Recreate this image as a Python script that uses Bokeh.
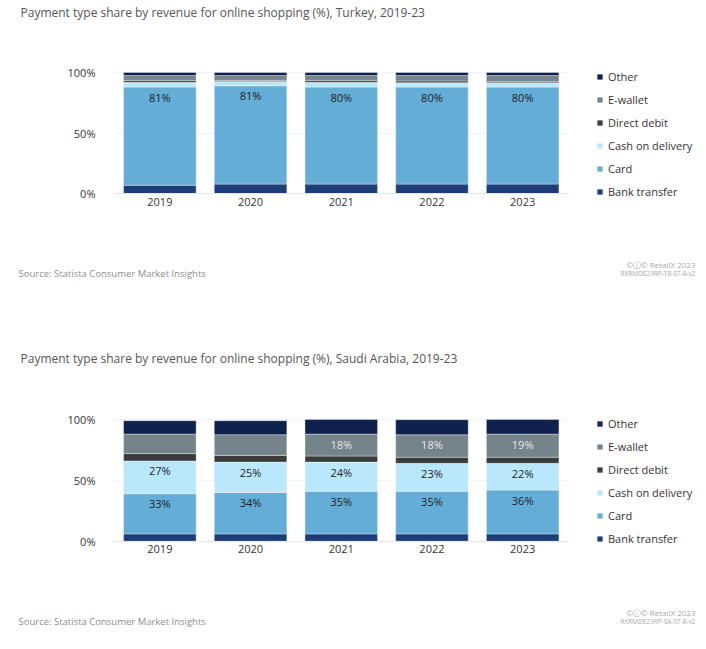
from bokeh.plotting import figure
from bokeh.models import (Range1d, FixedTicker, PrintfTickFormatter, LinearAxis, Grid,
                          Legend, LegendItem, Label, ColumnDataSource)
from bokeh.layouts import column
from bokeh.embed import file_html
from bokeh.resources import INLINE
from bokeh.core.properties import value

# ---------------- data ----------------
years = ["2019", "2020", "2021", "2022", "2023"]
series = ["Bank transfer", "Card", "Cash on delivery", "Direct debit", "E-wallet", "Other"]
colors = ["#1d3d79", "#64add6", "#b9e7fc", "#3b3b3b", "#75848a", "#10214e"]
label_colors = ["#222222", "#1e1e1e", "#1e1e1e", "#eeeeee", "#e6e6e6", "#eeeeee"]

# Turkey
tr_bank_transfer = [7, 8, 8, 8, 8]
tr_card = [81, 81, 80, 80, 80]
tr_cash_on_delivery = [4, 3.5, 4, 3.5, 3.5]
tr_direct_debit = [1.5, 1, 1.5, 1.5, 1]
tr_e_wallet = [4, 4, 4, 4.5, 5]
tr_other = [2.5, 2.5, 2.5, 2.5, 2.5]

# Saudi Arabia
sa_bank_transfer = [6, 6, 6, 6, 6]
sa_card = [33, 34, 35, 35, 36]
sa_cash_on_delivery = [27, 25, 24, 23, 22]
sa_direct_debit = [6, 5.5, 5, 5, 5]
sa_e_wallet = [16, 17, 18, 18.4, 19]
sa_other = [11, 11.5, 12, 12.4, 12]

y_ticks = [0, 50, 100]

title_tr = "Payment type share by revenue for online shopping (%), Turkey, 2019-23"
title_sa = "Payment type share by revenue for online shopping (%), Saudi Arabia, 2019-23"
source_text = "Source: Statista Consumer Market Insights"
credit_text = "©ⓘ© RetailX 2023"
code_tr = "RXRMDE23RP-TR-ST-8-v2"
code_sa = "RXRMDE23RP-SA-ST-8-v2"

FONT = "Open Sans"
LABEL_MIN = 17.5
W = 706
SLOT_LEFT = 114.0     # px of the left edge of the first category slot
SLOT_W = 90.7         # px per category slot


def make_chart(data, title, code, H, top_px, bot_px):
    ppu = (bot_px - top_px) / 100.0
    x0 = -0.5 - SLOT_LEFT / SLOT_W
    x1 = -0.5 + (W - SLOT_LEFT) / SLOT_W
    y0 = -(H - bot_px) / ppu
    y1 = 100 + top_px / ppu

    def py(pix):
        return 100 - (pix - top_px) / ppu

    def px(pix):
        return x0 + pix / SLOT_W

    p = figure(width=W, height=H, x_range=Range1d(x0, x1), y_range=Range1d(y0, y1),
               x_axis_type=None, y_axis_type=None, output_backend="svg",
               toolbar_location=None, min_border=0)
    p.outline_line_color = None
    p.grid.visible = False

    xs = list(range(len(years)))
    src = ColumnDataSource(dict(x=xs, **{s: v for s, v in zip(series, data)}))
    rends = p.vbar_stack(series, x="x", width=0.8, source=src, color=colors,
                         line_color="white", line_alpha=0.35, line_width=1)

    # value labels
    lx, ly, lt, lc = [], [], [], []
    for i in xs:
        cum = 0
        for j, s in enumerate(series):
            v = data[j][i]
            cum += v
            if v >= LABEL_MIN:
                lx.append(i)
                ly.append(cum)
                lt.append(f"{round(v)}%")
                lc.append(label_colors[j])
    lsrc = ColumnDataSource(dict(x=lx, y=ly, t=lt, c=lc))
    p.text(x="x", y="y", text="t", source=lsrc, text_color="c",
           text_align="center", text_baseline="middle", y_offset=10,
           text_font=value(FONT), text_font_size="11px")

    # grid
    grid = Grid(dimension=1, ticker=FixedTicker(ticks=y_ticks), cross_bounds=(-0.5, len(years) - 0.5),
                grid_line_color="#eff2f6")
    p.add_layout(grid)

    # axes
    yaxis = LinearAxis(ticker=FixedTicker(ticks=y_ticks), formatter=PrintfTickFormatter(format="%d%%"),
                       fixed_location=-0.5, axis_line_color=None, major_tick_line_color=None,
                       minor_tick_line_color=None, major_label_standoff=13,
                       major_label_text_font=FONT, major_label_text_font_size="11px",
                       major_label_text_color="#333333")
    p.add_layout(yaxis, "left")
    xaxis = LinearAxis(ticker=FixedTicker(ticks=xs),
                       major_label_overrides={i: y for i, y in zip(xs, years)},
                       fixed_location=0, bounds=(-0.5, len(years) - 0.5),
                       axis_line_color="#dfe7ef", major_tick_line_color=None,
                       minor_tick_line_color=None, major_label_standoff=-2,
                       major_label_text_font=FONT, major_label_text_font_size="11px",
                       major_label_text_color="#333333")
    p.add_layout(xaxis, "below")

    # legend
    items = [LegendItem(label=s, renderers=[r]) for s, r in zip(series, rends)][::-1]
    leg_bottom = top_px + 4 + 5 * 23 + 8
    leg = Legend(items=items, location=(596, H - leg_bottom), orientation="vertical",
                 glyph_width=7, glyph_height=7, label_standoff=5, spacing=7,
                 label_height=16, padding=0, margin=0,
                 border_line_color=None, background_fill_alpha=0,
                 label_text_font=FONT, label_text_font_size="11px",
                 label_text_color="#333333")
    p.add_layout(leg)

    # texts
    def lab(xp, yp, t, size, col, align):
        p.add_layout(Label(x=px(xp), y=py(yp), text=t, text_font=FONT, text_font_size=size,
                           text_color=col, text_align=align, text_baseline="middle"))

    lab(20, 12, title, "12px", "#555555", "left")
    lab(18, bot_px + 80, source_text, "9.5px", "#8e8e8e", "left")
    lab(695, bot_px + 71, credit_text, "8px", "#a8a8a8", "right")
    lab(695, bot_px + 80, code, "6.5px", "#a8a8a8", "right")
    return p


p1 = make_chart([tr_bank_transfer, tr_card, tr_cash_on_delivery, tr_direct_debit,
                 tr_e_wallet, tr_other], title_tr, code_tr, 346, 72, 193.3)
p2 = make_chart([sa_bank_transfer, sa_card, sa_cash_on_delivery, sa_direct_debit,
                 sa_e_wallet, sa_other], title_sa, code_sa, 300, 73, 194.7)

layout = column(p1, p2, spacing=0)
open("out.html", "w").write(file_html(layout, INLINE))
